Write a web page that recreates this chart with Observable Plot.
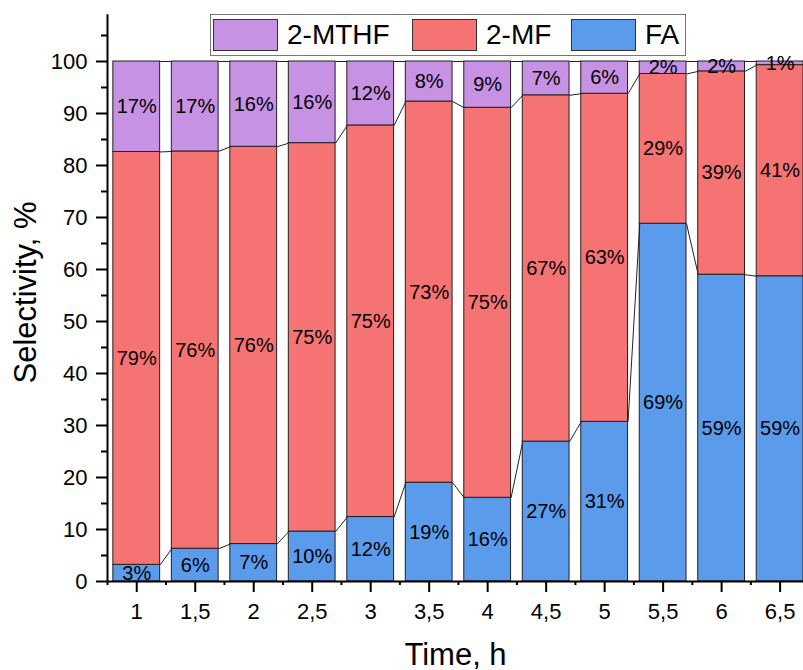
<!DOCTYPE html>
<html>
<head>
<meta charset="utf-8">
<script src="https://cdn.jsdelivr.net/npm/d3@7"></script>
<script src="https://cdn.jsdelivr.net/npm/@observablehq/plot@0.6"></script>
<style>
  html, body { margin: 0; padding: 0; background: #fff; }
  #wrap { position: relative; width: 803px; height: 670px; overflow: hidden; font-family: "Liberation Sans", Arial, sans-serif; }
  #legend { position: absolute; left: 210px; top: 14px; width: 476px; height: 42px; box-sizing: border-box; border: 1px solid #777; background: #fff; }
  #legend .sw { position: absolute; top: 4px; width: 65px; height: 32px; box-sizing: border-box; border: 1px solid #333; }
  #legend .lb { position: absolute; top: 0; line-height: 40px; font-size: 28px; color: #000; }
</style>
</head>
<body>
<div id="wrap">
  <div id="chart"></div>
  <div id="legend"></div>
</div>
<script>
// ---- data ----
const times = [1, 1.5, 2, 2.5, 3, 3.5, 4, 4.5, 5, 5.5, 6, 6.5];
const seriesNames = ["FA", "2-MF", "2-MTHF"];
const faValues   = [3.2, 6.3, 7.2, 9.6, 12.4, 19.0, 16.1, 26.9, 30.7, 68.8, 59.0, 58.7];
const mfValues   = [79.4, 76.4, 76.4, 74.7, 75.3, 73.3, 75.0, 66.6, 63.1, 28.8, 39.1, 40.6];
const mthfValues = [17.4, 17.3, 16.4, 15.7, 12.3, 7.7, 8.9, 6.5, 6.2, 2.4, 1.9, 0.7];
const yTicks = [0, 10, 20, 30, 40, 50, 60, 70, 80, 90, 100];
const yMinorTicks = [5, 15, 25, 35, 45, 55, 65, 75, 85, 95, 105];
const colors = {"FA": "#5A9BEC", "2-MF": "#F67373", "2-MTHF": "#C791E4"};
const legendOrder = ["2-MTHF", "2-MF", "FA"];

// ---- derived tables ----
const valuesBySeries = [faValues, mfValues, mthfValues];
const halfStep = 0.25;            // half the spacing between sampling times
const halfBar = halfStep * 0.8;   // bars fill 80% of the step
const xDomain = [times[0] - halfStep, 6.7];
const yDomain = [0, 109];

const rows = [];
const cum = [times.map(() => 0)];
valuesBySeries.forEach((vals, k) => {
  const prev = cum[k];
  const next = vals.map((v, i) => prev[i] + v);
  vals.forEach((v, i) => rows.push({
    t: times[i], series: seriesNames[k], y1: prev[i], y2: next[i],
    label: Math.round(v) + "%"
  }));
  cum.push(next);
});
const links = [];
for (let k = 1; k < cum.length; k++) {
  for (let i = 0; i < times.length - 1; i++) {
    links.push({x1: times[i] + halfBar, y1: cum[k][i], x2: times[i + 1] - halfBar, y2: cum[k][i + 1]});
  }
}
const xMinor = times.map(t => t - halfStep).concat([times[times.length - 1] + halfStep]);
const fmt = d => String(d).replace(".", ",");

const chart = Plot.plot({
  width: 803,
  height: 670,
  marginLeft: 107,
  marginRight: 0,
  marginTop: 14.2,
  marginBottom: 89,
  style: {fontFamily: "'Liberation Sans', Arial, sans-serif", color: "#000", background: "transparent"},
  x: {type: "linear", domain: xDomain},
  y: {domain: yDomain},
  marks: [
    Plot.rect(rows, {
      x1: d => d.t - halfBar, x2: d => d.t + halfBar, y1: "y1", y2: "y2",
      fill: d => colors[d.series], stroke: "#222", strokeWidth: 1
    }),
    Plot.link(links, {x1: "x1", y1: "y1", x2: "x2", y2: "y2", stroke: "#222", strokeWidth: 1}),
    Plot.text(rows, {
      x: "t", y: d => (d.y1 + d.y2) / 2, text: "label",
      fontSize: 20, fill: "#000"
    }),
    Plot.axisY(yTicks, {tickSize: 11, tickPadding: 9, fontSize: 22, strokeWidth: 2, label: null}),
    Plot.axisY(yMinorTicks, {tickSize: 6, tickFormat: () => "", strokeWidth: 2, label: null}),
    Plot.axisX(times, {tickSize: 11, tickPadding: 11, fontSize: 22, strokeWidth: 2, tickFormat: fmt, label: null}),
    Plot.axisX(xMinor, {tickSize: 4, tickFormat: () => "", strokeWidth: 2, label: null}),
    Plot.ruleX([xDomain[0]], {y1: yDomain[0], y2: yDomain[1], stroke: "#000", strokeWidth: 2}),
    Plot.ruleY([0], {stroke: "#000", strokeWidth: 2}),
    Plot.text(["Time, h"], {text: d => d, frameAnchor: "bottom", textAnchor: "middle", lineAnchor: "bottom", dy: 83, fontSize: 31, fill: "#000"}),
    Plot.text(["Selectivity, %"], {text: d => d, frameAnchor: "left", textAnchor: "middle", lineAnchor: "bottom", rotate: -90, dx: -72, dy: -5.6, fontSize: 31, fill: "#000"})
  ]
});
document.getElementById("chart").appendChild(chart);

// ---- legend ----
const legend = document.getElementById("legend");
const swLeft = [2, 201, 360];
const lbLeft = [76, 275, 434];
legendOrder.forEach((name, i) => {
  const sw = document.createElement("div");
  sw.className = "sw";
  sw.style.left = swLeft[i] + "px";
  sw.style.background = colors[name];
  legend.appendChild(sw);
  const lb = document.createElement("div");
  lb.className = "lb";
  lb.style.left = lbLeft[i] + "px";
  lb.textContent = name;
  legend.appendChild(lb);
});
</script>
</body>
</html>
